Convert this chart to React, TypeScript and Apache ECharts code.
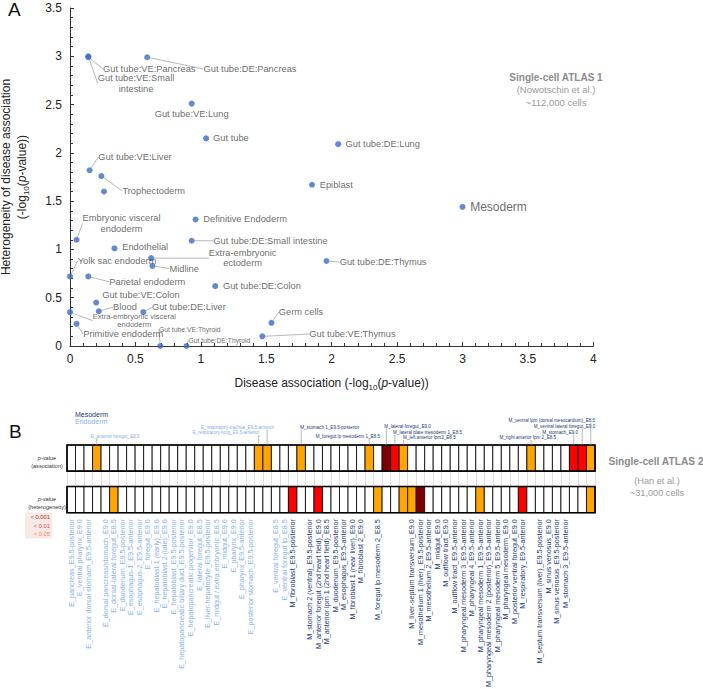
import React, { useEffect, useRef } from "react";
import * as echarts from "echarts";

const FONT = "'Liberation Sans', Arial, Helvetica, sans-serif";

// ---------------- Panel A data ----------------
const cellTypes = [
  "Gut tube:VE:Pancreas",
  "Gut tube:VE:Small\nintestine",
  "Gut tube:DE:Pancreas",
  "Gut tube:VE:Lung",
  "Gut tube",
  "Gut tube:DE:Lung",
  "Gut tube:VE:Liver",
  "Trophectoderm",
  "Epiblast",
  "Mesoderm",
  "Definitive Endoderm",
  "Embryonic visceral\nendoderm",
  "Endothelial",
  "Gut tube:DE:Small intestine",
  "Extra-embryonic\nectoderm",
  "Midline",
  "Yolk sac endoderm",
  "Parietal endoderm",
  "Gut tube:DE:Colon",
  "Gut tube:DE:Thymus",
  "Gut tube:VE:Colon",
  "Blood",
  "Gut tube:DE:Liver",
  "Extra-embryonic visceral\nendoderm",
  "Primitive endoderm",
  "Germ cells",
  "Gut tube:VE:Thymus",
  "Gut tube:VE:Thyroid",
  "Gut tube:DE:Thyroid",
  "",
];
const diseaseAssociation = [
  0.14, 0.14, 0.59, 0.93, 1.04, 2.05, 0.15, 0.24, 1.85, 3.0, 0.96, 0.05, 0.34, 0.93, 0.62,
  0.63, 0.0, 0.14, 1.11, 1.96, 0.2, 0.22, 0.56, 0.0, 0.05, 1.54, 1.47, 0.69, 0.89, 0.26,
];
const heterogeneity = [
  2.99, 3.0, 2.99, 2.51, 2.15, 2.09, 1.82, 1.76, 1.67, 1.44, 1.31, 1.1, 1.01, 1.09, 0.91,
  0.83, 0.72, 0.72, 0.62, 0.88, 0.45, 0.36, 0.35, 0.35, 0.23, 0.24, 0.1, 0.0, 0.0, 1.6,
];

// ---------------- Panel B data ----------------
const clusterNames = [
  "E_pancreas_E9.5-posterior",
  "E_ventral pharynx_E9.0",
  "E_anterior dorsal stomach_E9.5-anterior",
  "E_anterior foregut_E8.5",
  "E_dorsal pancreas/stomach_E9.0",
  "E_dorsal-lateral foregut_E8.5",
  "E_duodenum_E9.5-posterior",
  "E_esophagus-1_E9.5-anterior",
  "E_esophagus-2_E9.5-anterior",
  "E_foregut_E9.0",
  "E_hepatoblast 1 (early)_E9.0",
  "E_hepatoblast 2 (late)_E9.0",
  "E_hepatoblast_E9.5-posterior",
  "E_hepatopancreatic biliary duct_E9.5-posterior",
  "E_hepatopancreatic progenitor_E9.0",
  "E_lateral foregut_E8.5",
  "E_liver-hepatocyte_E9.5-posterior",
  "E_midgut / extra embryonic_E8.5",
  "E_midgut_E9.0",
  "E_pharynx_E9.0",
  "E_pharynx_E9.5-anterior",
  "E_posterior stomach_E9.5-posterior",
  "E_respiratory-lung_E9.5-anterior",
  "E_respiratory-trachea_E9.5-anterior",
  "E_ventral foregut_E8.5",
  "E_ventral foregut lp_E8.5",
  "M_fibroblast_E9.5-posterior",
  "M_stomach 1_E9.5-posterior",
  "M_stomach 2 (ventral)_E9.5-posterior",
  "M_anterior foregut (2nd heart field)_E9.0",
  "M_anterior lpm 1 (2nd heart field)_E8.5",
  "M_duodenum_E9.5-posterior",
  "M_esophagus_E9.5-anterior",
  "M_fibroblast 1 (near liver)_E9.0",
  "M_fibroblast 2_E9.0",
  "M_foregut lp mesoderm 1_E8.5",
  "M_foregut lp mesoderm 2_E8.5",
  "M_lateral foregut_E9.0",
  "M_lateral plate mesoderm 1_E8.5",
  "M_left anterior lpm2_E8.5",
  "M_liver-septum transversum_E9.0",
  "M_mesothelium 1 (liver)_E9.5-posterior",
  "M_mesothelium 2_E9.5-anterior",
  "M_midgut_E9.0",
  "M_outflow tract_E9.0",
  "M_outflow tract_E9.5-anterior",
  "M_pharyngeal mesoderm 3_E9.5-anterior",
  "M_pharyngeal 4_E9.5-anterior",
  "M_pharyngeal mesoderm 1_E9.5-anterior",
  "M_pharyngeal mesoderm 2 (posterior)_E9.5-anterior",
  "M_pharyngeal mesoderm 5_E9.5-anterior",
  "M_pharyngeal mesoderm_E9.0",
  "M_posterior ventral foregut_E9.0",
  "M_respiratory_E9.5-anterior",
  "M_right anterior lpm 2_E8.5",
  "M_septum transversum (liver)_E9.5-posterior",
  "M_sinus venosus_E9.0",
  "M_sinus venosus_E9.5-posterior",
  "M_stomach 3_E9.5-anterior",
  "M_stomach_E9.0",
  "M_ventral lateral foregut_E9.0",
  "M_ventral lpm (dorsal mesocardium)_E8.5",
];
// 0 = n.s., 1 = < 0.05, 2 = < 0.01, 3 = < 0.001
const associationLevel = [
  0, 0, 0, 1, 0, 0, 0, 0, 0, 0,
  0, 0, 0, 0, 0, 0, 0, 0, 0, 0,
  0, 0, 1, 1, 0, 0, 0, 1, 0, 0,
  0, 0, 0, 0, 0, 1, 0, 3, 2, 1,
  0, 0, 0, 0, 0, 0, 0, 0, 0, 0,
  0, 0, 0, 0, 1, 0, 0, 0, 0, 2,
  2, 1,
];
const heterogeneityLevel = [
  0, 0, 0, 0, 0, 1, 0, 0, 0, 0,
  0, 0, 0, 0, 0, 0, 0, 0, 0, 0,
  0, 0, 0, 0, 0, 0, 2, 0, 0, 2,
  0, 0, 0, 0, 0, 0, 1, 0, 0, 1,
  1, 3, 0, 0, 0, 0, 0, 0, 1, 0,
  0, 0, 0, 2, 0, 0, 0, 0, 0, 0,
  0, 1,
];
const annotatedClusters = [3, 22, 23, 27, 35, 37, 38, 39, 54, 59, 60, 61];
const rowNames = ["association", "heterogeneity"];
const legendLabels = ["< 0.001", "< 0.01", "< 0.05"];

// ---------------- styles / layout ----------------
const LEVEL_COLORS = ["#ffffff", "#ffa500", "#ff0000", "#7d0000"];
const LEGEND_COLORS = ["#a8302c", "#ea4648", "#f08a66"];
const ENDO_COLOR = "#86b0ec";
const MESO_COLOR = "#22397a";
const POINT_COLOR = "#3a6cc9";

// label offsets from point centre: [dx, dy, align]
const LABEL_OFFSETS: [number, number, string][] = [
  [14.7, 11.7, "left"],
  [47.7, 27.2, "center"],
  [56.3, 11.7, "left"],
  [0, 10.4, "center"],
  [7, 0, "left"],
  [7.3, 0, "left"],
  [8.7, -13.4, "left"],
  [21, 15, "left"],
  [7.7, 0, "left"],
  [7.7, 0, "left"],
  [7.7, 0, "left"],
  [45, -16.3, "center"],
  [7.7, -1, "left"],
  [21.7, 0, "left"],
  [91.5, 0, "center"],
  [17, 2.7, "left"],
  [7.7, -15.7, "left"],
  [21, 5.3, "left"],
  [7.7, 0, "left"],
  [13.3, 1, "left"],
  [6, -7.3, "left"],
  [14.3, -4, "left"],
  [8.7, -5, "left"],
  [64.3, 8.5, "center"],
  [6.7, 10.7, "left"],
  [7.3, -10.7, "left"],
  [47, -2.3, "left"],
  [-1.3, -16.3, "left"],
  [2, -5.7, "left"],
  [0, 0, "left"],
];
const LEADER = [1, 1, 1, 0, 0, 0, 1, 1, 0, 0, 0, 1, 0, 1, 1, 1, 1, 1, 0, 1, 0, 1, 1, 1, 1, 1, 1, 1, 1, 0];
const LABEL_SIZES = [
  9.3, 9.3, 9.3, 9.3, 9.3, 9.3, 9.3, 9.3, 9.3, 12, 9.3, 9.3, 9.3, 9.3, 9.3,
  9.3, 9.3, 9.3, 9.3, 9.3, 9.3, 9.3, 9.3, 7.6, 9.3, 9.3, 9.3, 6.8, 6.8, 9.3,
];
// top annotation layout: [textRise, lineRise, dx, align]
const TOP_LAYOUT: [number, number, number, string][] = [
  [9, 6.8, -6, "left"],
  [12.3, 10, 0.5, "right"],
  [18, 15.7, 7, "right"],
  [17.7, 15.4, -1, "left"],
  [8.3, 6, 10.7, "right"],
  [19, 16.7, -2, "left"],
  [12.3, 10, -1.8, "left"],
  [7.3, 5, -0.3, "left"],
  [7.3, 5, 25, "right"],
  [13, 10.7, 4.4, "right"],
  [19, 16.7, 13, "right"],
  [25, 22.7, 4.4, "right"],
];
const ROW_GAP = 7.7;
const BOTTOM_LABEL_MARGIN = 6.5;
const BOTTOM_LABEL_SIZE = 7.2;

function buildOption(): any {
  const scatterData = cellTypes.map((n, i) => ({
    name: n,
    value: [diseaseAssociation[i], heterogeneity[i]],
    label: { show: n !== "", fontSize: LABEL_SIZES[i], lineHeight: LABEL_SIZES[i] + 0.8 },
    labelLine: { show: LEADER[i] === 1 },
  }));

  const heatData: number[][] = [];
  clusterNames.forEach((_, c) => {
    heatData.push([c, 0, associationLevel[c]]);
    heatData.push([c, 1, heterogeneityLevel[c]]);
  });

  const bottomLabelData = clusterNames
    .map((_, c) => c)
    .filter((c) => annotatedClusters.indexOf(c) < 0)
    .map((c) => [c, 1]);

  const axisTitleRich = {
    n: { fontSize: 12, color: "#222", fontFamily: FONT, lineHeight: 15 },
    sub: { fontSize: 8, color: "#222", fontFamily: FONT, lineHeight: 17, verticalAlign: "bottom" },
    it: { fontSize: 12, color: "#222", fontFamily: FONT, fontStyle: "italic", lineHeight: 15 },
  };

  const rowLabelRich = {
    n: { fontSize: 5.6, lineHeight: 8, color: "#333", fontFamily: FONT },
    it: { fontSize: 5.6, lineHeight: 8, color: "#333", fontStyle: "italic", fontFamily: FONT },
    sp: { fontSize: 1, lineHeight: 14 },
  };

  const centerText = (text: string, x: number, y: number, size: number, color: string, bold = false, align = "center") => ({
    type: "text",
    x,
    y,
    silent: true,
    style: {
      text,
      fontSize: size,
      fontFamily: FONT,
      fontWeight: bold ? "bold" : "normal",
      fill: color,
      align,
      verticalAlign: "middle",
    },
  });

  return {
    animation: false,
    textStyle: { fontFamily: FONT },
    grid: [
      { left: 70, top: 8, width: 523.3, height: 338, outerBoundsMode: "none", containLabel: false },
      { left: 67, top: 445, width: 528, height: 67.7, outerBoundsMode: "none", containLabel: false },
    ],
    xAxis: [
      {
        gridIndex: 0,
        type: "value",
        min: 0,
        max: 4,
        interval: 0.5,
        axisLine: { onZero: false, lineStyle: { color: "#333", width: 1 } },
        axisTick: { inside: true, length: 4, lineStyle: { color: "#333" } },
        minorTick: { show: true, splitNumber: 5, length: 3, lineStyle: { color: "#333" } },
        splitLine: { show: false },
        axisLabel: { fontSize: 12, color: "#222", margin: 7 },
        name: "{n|Disease association (-log}{sub|10}{n|(}{it|p}{n|-value))}",
        nameLocation: "middle",
        nameGap: 28,
        nameTextStyle: { rich: axisTitleRich },
      },
      {
        gridIndex: 1,
        type: "category",
        data: clusterNames,
        axisLine: { show: false },
        axisTick: { show: false },
        axisLabel: { show: false },
        splitLine: { show: true, interval: 0, lineStyle: { color: "#d6d6d6", width: 0.8 } },
      },
    ],
    yAxis: [
      {
        gridIndex: 0,
        type: "value",
        min: 0,
        max: 3.5,
        interval: 0.5,
        axisLine: { show: true, lineStyle: { color: "#333", width: 1 } },
        axisTick: { show: true, inside: true, length: 4, lineStyle: { color: "#333" } },
        minorTick: { show: true, splitNumber: 5, length: 3, lineStyle: { color: "#333" } },
        splitLine: { show: false },
        axisLabel: { fontSize: 12, color: "#222", margin: 8 },
        name: "{n|Heterogeneity of disease association}\n{n|(-log}{sub|10}{n|(}{it|p}{n|-value))}",
        nameLocation: "middle",
        nameGap: 40,
        nameTextStyle: { rich: axisTitleRich },
      },
      {
        gridIndex: 1,
        type: "category",
        data: rowNames,
        inverse: true,
        axisLine: { show: false },
        axisTick: { show: false },
        splitLine: { show: false },
        axisLabel: {
          interval: 0,
          align: "center",
          margin: 20,
          formatter: (v: string) =>
            v === "association"
              ? "{it|p}{n|-value}\n{n|(association)}"
              : "{sp| }\n{it|p}{n|-value}\n{n|(heterogeneity)}",
          rich: rowLabelRich,
        },
      },
    ],
    series: [
      {
        type: "scatter",
        xAxisIndex: 0,
        yAxisIndex: 0,
        symbolSize: 6,
        clip: false,
        itemStyle: { color: POINT_COLOR },
        emphasis: { disabled: true },
        label: { show: true, formatter: "{b}", color: "#444", fontSize: 9.3, fontFamily: FONT },
        labelLine: { show: true, length2: 0, lineStyle: { color: "#9a9a9a", width: 0.7 } },
        labelLayout: (p: any) => {
          const o = LABEL_OFFSETS[p.dataIndex];
          return {
            x: p.rect.x + p.rect.width / 2 + o[0],
            y: p.rect.y + p.rect.height / 2 + o[1],
            align: o[2],
            verticalAlign: "middle",
          };
        },
        data: scatterData,
      },
      {
        type: "custom",
        xAxisIndex: 1,
        yAxisIndex: 1,
        clip: false,
        silent: true,
        encode: { x: 0, y: 1 },
        data: heatData,
        renderItem: (params: any, api: any) => {
          const c = api.value(0);
          const r = api.value(1);
          const lv = api.value(2);
          const ctr = api.coord([c, r]);
          const sz = api.size([1, 1]);
          const y0 = ctr[1] - sz[1] / 2 + (r === 0 ? 0 : ROW_GAP);
          return {
            type: "rect",
            shape: { x: ctr[0] - sz[0] / 2, y: y0, width: sz[0], height: sz[1] - ROW_GAP },
            style: { fill: LEVEL_COLORS[lv], stroke: "#111", lineWidth: 0.9 },
          };
        },
      },
      {
        type: "custom",
        xAxisIndex: 1,
        yAxisIndex: 1,
        clip: false,
        silent: true,
        encode: { x: 0, y: 1 },
        data: rowNames.map((_, r) => [0, r]),
        renderItem: (params: any, api: any) => {
          const r = api.value(1);
          const a = api.coord([0, r]);
          const b = api.coord([clusterNames.length - 1, r]);
          const sz = api.size([1, 1]);
          const y0 = a[1] - sz[1] / 2 + (r === 0 ? 0 : ROW_GAP);
          return {
            type: "rect",
            shape: { x: a[0] - sz[0] / 2, y: y0, width: b[0] - a[0] + sz[0], height: sz[1] - ROW_GAP },
            style: { fill: "none", stroke: "#000", lineWidth: 1.6 },
          };
        },
      },
      {
        type: "custom",
        xAxisIndex: 1,
        yAxisIndex: 1,
        clip: false,
        silent: true,
        encode: { x: 0, y: 1 },
        data: annotatedClusters.map((c) => [c, 0]),
        renderItem: (params: any, api: any) => {
          const c = api.value(0);
          const L = TOP_LAYOUT[params.dataIndex];
          const ctr = api.coord([c, 0]);
          const sz = api.size([1, 1]);
          const top = ctr[1] - sz[1] / 2;
          const name = clusterNames[c];
          return {
            type: "group",
            children: [
              {
                type: "line",
                shape: { x1: ctr[0], y1: top, x2: ctr[0], y2: top - L[1] },
                style: { stroke: "#8a8a8a", lineWidth: 0.6 },
              },
              {
                type: "text",
                x: ctr[0] + L[2],
                y: top - L[0],
                style: {
                  text: name,
                  fontSize: 4.6,
                  fontFamily: FONT,
                  fill: name.startsWith("E_") ? ENDO_COLOR : MESO_COLOR,
                  align: L[3],
                  verticalAlign: "middle",
                },
              },
            ],
          };
        },
      },
      {
        type: "custom",
        xAxisIndex: 1,
        yAxisIndex: 1,
        clip: false,
        silent: true,
        encode: { x: 0, y: 1 },
        data: bottomLabelData,
        renderItem: (params: any, api: any) => {
          const c = api.value(0);
          const ctr = api.coord([c, 1]);
          const sz = api.size([1, 1]);
          const bottom = ctr[1] + sz[1] / 2;
          const name = clusterNames[c];
          return {
            type: "text",
            x: ctr[0],
            y: bottom + BOTTOM_LABEL_MARGIN,
            rotation: Math.PI / 2,
            style: {
              text: name,
              fontSize: BOTTOM_LABEL_SIZE,
              fontFamily: FONT,
              fill: name.startsWith("E_") ? ENDO_COLOR : MESO_COLOR,
              align: "right",
              verticalAlign: "middle",
            },
          };
        },
      },
    ],
    graphic: [
      centerText("A", 8, 9, 19, "#111", false, "left"),
      centerText("B", 9, 431, 19, "#111", false, "left"),
      centerText("Single-cell ATLAS 1", 556, 77, 10, "#8c8c8c", true),
      centerText("(Nowotschin et al.)", 556, 89.5, 9.5, "#9a9a9a"),
      centerText("~112,000 cells", 556, 102, 9.5, "#9a9a9a"),
      centerText("Single-cell ATLAS 2", 656, 461, 10.2, "#8c8c8c", true),
      centerText("(Han et al.)", 657, 481, 9.2, "#9a9a9a"),
      centerText("~31,000 cells", 657, 492.5, 9.2, "#9a9a9a"),
      centerText("Mesoderm", 75, 414, 7, MESO_COLOR, false, "left"),
      centerText("Endoderm", 75, 421.5, 7, ENDO_COLOR, false, "left"),
      {
        type: "rect",
        silent: true,
        shape: { x: 25, y: 512.5, width: 27, height: 26 },
        style: { fill: "#f8e9e7" },
      },
      centerText(legendLabels[0], 50, 517.3, 5.8, LEGEND_COLORS[0], false, "right"),
      centerText(legendLabels[1], 50, 525.8, 5.8, LEGEND_COLORS[1], false, "right"),
      centerText(legendLabels[2], 50, 534.2, 5.8, LEGEND_COLORS[2], false, "right"),
    ],
  };
}

export default function App() {
  const ref = useRef<HTMLDivElement>(null);
  useEffect(() => {
    if (!ref.current) return;
    const chart = echarts.init(ref.current, undefined, { renderer: "svg" });
    chart.setOption(buildOption());
    return () => chart.dispose();
  }, []);
  return (
    <div
      ref={ref}
      style={{ position: "absolute", left: 0, top: 0, width: 703, height: 689, background: "#fff" }}
    />
  );
}
